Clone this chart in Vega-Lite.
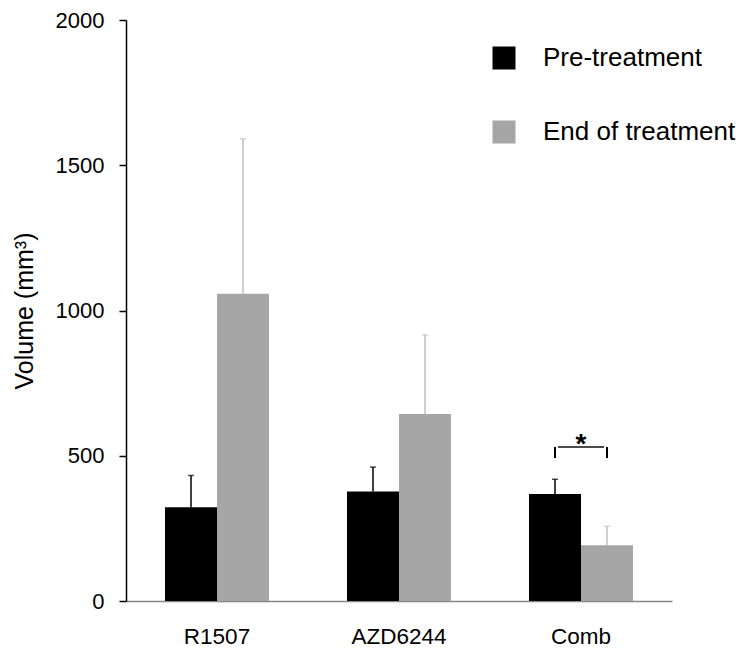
{
  "$schema": "https://vega.github.io/schema/vega-lite/v6.json",
  "width": 546,
  "height": 581,
  "autosize": {"type": "none"},
  "padding": {"left": 126, "top": 20, "right": 71, "bottom": 47},
  "background": "white",
  "config": {
    "font": "Liberation Sans",
    "view": {"stroke": null},
    "axis": {"grid": false, "labelFont": "Liberation Sans", "titleFont": "Liberation Sans"},
    "legend": {"labelFont": "Liberation Sans"}
  },
  "datasets": {
    "bars": [
      {"group": "R1507", "series": "Pre-treatment", "value": 323, "upper": 432},
      {"group": "R1507", "series": "End of treatment", "value": 1058, "upper": 1591},
      {"group": "AZD6244", "series": "Pre-treatment", "value": 377, "upper": 461},
      {"group": "AZD6244", "series": "End of treatment", "value": 644, "upper": 916},
      {"group": "Comb", "series": "Pre-treatment", "value": 368, "upper": 419},
      {"group": "Comb", "series": "End of treatment", "value": 192, "upper": 257}
    ],
    "bracket": [
      {"group": "Comb", "series": "Pre-treatment", "low": 492, "high": 530},
      {"group": "Comb", "series": "End of treatment", "low": 492, "high": 530}
    ],
    "star": [
      {"group": "Comb", "y": 530, "label": "*"}
    ]
  },
  "encoding": {
    "x": {
      "field": "group", "type": "nominal", "sort": ["R1507", "AZD6244", "Comb"],
      "scale": {"paddingInner": 0.4286, "paddingOuter": 0.2143},
      "axis": {"title": null, "labelAngle": 0, "ticks": false, "domainColor": "#868686", "domainWidth": 1.5,
               "labelFontSize": 22.5, "labelColor": "#000000", "labelPadding": 24}
    }
  },
  "layer": [
    {
      "data": {"name": "bars"},
      "mark": {"type": "bar"},
      "encoding": {
        "xOffset": {"field": "series", "type": "nominal", "sort": ["Pre-treatment", "End of treatment"], "scale": {"paddingInner": 0, "paddingOuter": 0}},
        "y": {
          "field": "value", "type": "quantitative",
          "scale": {"domain": [0, 2000], "nice": false},
          "axis": {"values": [0, 500, 1000, 1500, 2000], "format": "d", "title": "Volume (mm³)", "titleFontSize": 25, "titleFontWeight": "normal",
                   "titleColor": "#000000", "titlePadding": 18, "labelFontSize": 22, "labelColor": "#000000",
                   "domainColor": "#000000", "domainWidth": 1.5, "tickColor": "#000000", "tickWidth": 1.5, "tickSize": 7, "labelPadding": 15}
        },
        "color": {
          "field": "series", "type": "nominal",
          "sort": ["Pre-treatment", "End of treatment"],
          "scale": {"domain": ["Pre-treatment", "End of treatment"], "range": ["#000000", "#a6a6a6"]},
          "legend": {
            "title": null, "orient": "none", "legendX": 365, "legendY": 25, "padding": 0,
            "symbolType": "square", "symbolSize": 529, "symbolStrokeWidth": 0, "labelLimit": 400,
            "labelFontSize": 26, "labelColor": "#000000", "labelOffset": 26, "rowPadding": 48
          }
        }
      }
    },
    {
      "data": {"name": "bars"},
      "mark": {"type": "rule", "strokeWidth": 1.5},
      "encoding": {
        "xOffset": {"field": "series", "type": "nominal", "sort": ["Pre-treatment", "End of treatment"]},
        "y": {"field": "value", "type": "quantitative"},
        "y2": {"field": "upper"},
        "color": {"condition": {"test": "datum.series === 'Pre-treatment'", "value": "#000000"}, "value": "#bfbfbf"}
      }
    },
    {
      "data": {"name": "bars"},
      "mark": {"type": "tick", "size": 6, "thickness": 1.5},
      "encoding": {
        "xOffset": {"field": "series", "type": "nominal", "sort": ["Pre-treatment", "End of treatment"]},
        "y": {"field": "upper", "type": "quantitative"},
        "color": {"condition": {"test": "datum.series === 'Pre-treatment'", "value": "#000000"}, "value": "#bfbfbf"}
      }
    },
    {
      "data": {"name": "bracket"},
      "mark": {"type": "rule", "strokeWidth": 2, "color": "#000000"},
      "encoding": {
        "xOffset": {"field": "series", "type": "nominal", "sort": ["Pre-treatment", "End of treatment"]},
        "y": {"field": "low", "type": "quantitative"},
        "y2": {"field": "high"}
      }
    },
    {
      "data": {"name": "star"},
      "mark": {"type": "tick", "size": 46, "thickness": 2, "color": "#000000"},
      "encoding": {
        "y": {"field": "y", "type": "quantitative"}
      }
    },
    {
      "data": {"name": "star"},
      "mark": {"type": "text", "fontSize": 28, "fontWeight": "bold", "baseline": "bottom", "dy": 12, "color": "#000000"},
      "encoding": {
        "y": {"field": "y", "type": "quantitative"},
        "text": {"field": "label"}
      }
    }
  ]
}
